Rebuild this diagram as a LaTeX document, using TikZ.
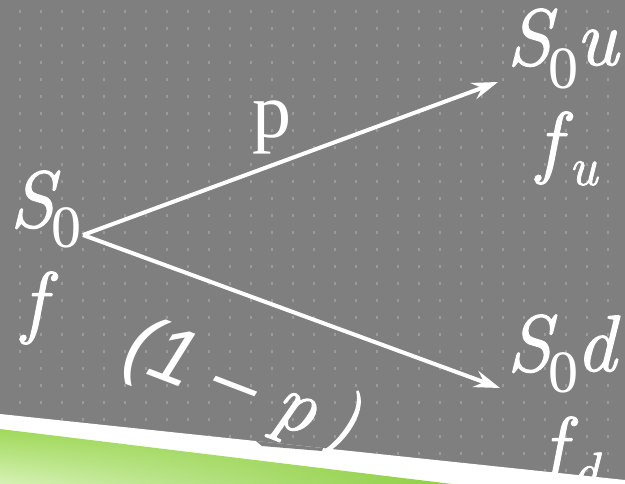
\documentclass[tikz,border=0pt]{standalone}
\usepackage{fontspec}
\setmainfont{Latin Modern Roman}[ItalicFeatures={FakeBold=1.5}]
\newfontfamily\tms{Liberation Serif}
\newfontfamily\sansfam{Liberation Sans}
\usetikzlibrary{arrows.meta,shadings}
\definecolor{bg}{HTML}{7F7F7F}
\definecolor{dotc}{HTML}{9A9A9A}
\definecolor{gLL}{HTML}{D6F2B6}
\definecolor{gUL}{HTML}{A0D95A}
\definecolor{gR}{HTML}{8FCF45}
\newcommand\bigsz{\fontsize{80}{80}\selectfont}
\newcommand\subsz{\fontsize{60}{60}\selectfont}
\newcommand\usz{\fontsize{54}{54}\selectfont}
\begin{document}
\begin{tikzpicture}[x=1pt,y=-1pt,
  txt/.style={inner sep=0pt, outer sep=0pt, anchor=base west, text=white, font=\bigsz},
  arr/.style={draw=white, line width=4pt, -{Stealth[length=26pt,width=17pt,inset=9pt]}},
  dot/.style={fill=dotc}]
\useasboundingbox (0,0) rectangle (625,483);
\clip (0,0) rectangle (625,483);
\fill[bg] (0,0) rectangle (625,483);
% dot grid above the band
\begin{scope}
\clip (0,0) -- (625,0) -- (625,480) -- (0,414) -- cycle;
\foreach \i in {0,...,29} {
  \foreach \j in {0,...,28} {
    \fill[dot] ({20+21*\i-1},{11+17*\j-1.5}) rectangle ++(2,3);
  }
}
\end{scope}
% white and green band
\fill[white] (0,414) -- (625,480) -- (625,484) -- (0,484) -- cycle;
\shade[lower left=gLL, upper left=gUL, upper right=gR, lower right=gR]
  (0,429) -- (452,484) -- (0,484) -- cycle;
% small notch of the label box
\fill[bg] (256,441) -- (262,446) -- (322,451) -- (323,448.1) -- cycle;
% texts
\node[txt] (s0) at (10,227) {\itshape S\hspace{-2pt}\raisebox{-20pt}{\subsz\tms\upshape 0}};
\node[txt] (f) at (22,328) {\itshape f};
\node[txt] (s0u) at (507,65) {\itshape S\hspace{-3pt}\raisebox{-23pt}{\subsz\tms\upshape 0}\hspace{-2pt}u};
\node[txt] (fu) at (537,168) {\itshape f\hspace{8pt}\raisebox{-17pt}{\usz u}};
\node[txt] (s0d) at (507,371) {\itshape S\hspace{-3pt}\raisebox{-21pt}{\subsz\tms\upshape 0}\hspace{-2pt}d};
\node[txt] (fd) at (542,473) {\itshape f\hspace{6pt}\raisebox{-17pt}{\usz d}};
\node[txt, font=\fontsize{78}{78}\selectfont\tms] (p) at (252,137) {p};
\node[txt, rotate=-21] (q) at (120,364) {{\sansfam\itshape (1 – }{\itshape p\hspace{10pt})}};
% connectors
\coordinate (o) at (83,235);
\coordinate (up) at (498,82);
\coordinate (dn) at (500,388);
\draw[arr] (o) -- (up);
\draw[arr] (o) -- (dn);
\end{tikzpicture}
\end{document}
